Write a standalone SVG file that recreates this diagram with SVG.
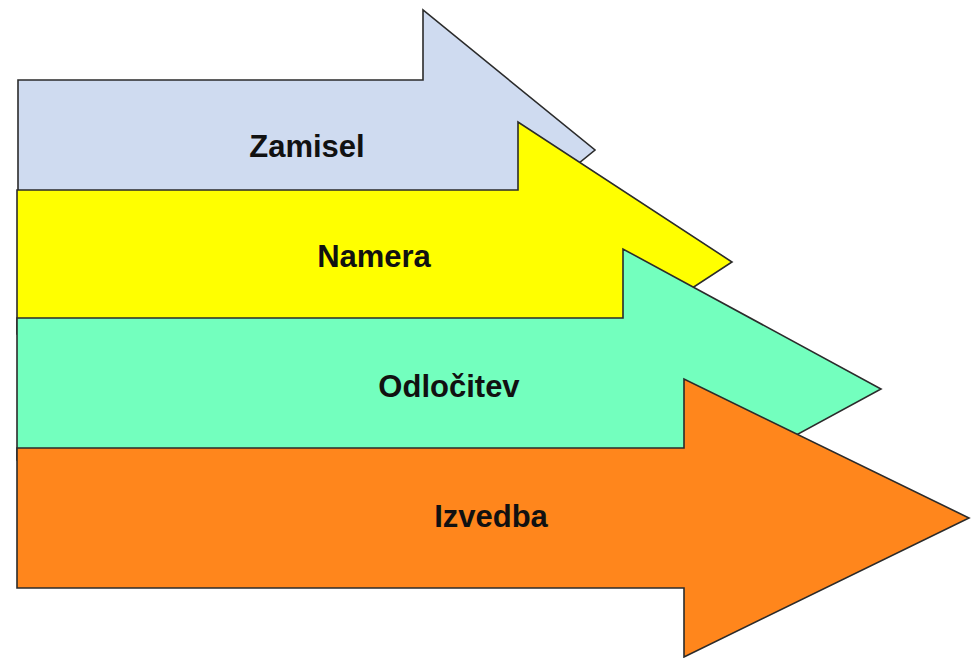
<svg xmlns="http://www.w3.org/2000/svg" width="978" height="658" viewBox="0 0 978 658">
<style>
.arrow{stroke:#2b2b2b;stroke-width:1.6;stroke-linejoin:miter}
.lbl{font-family:"Liberation Sans",Arial,sans-serif;font-weight:bold;font-size:31px;fill:#111;text-anchor:middle}
</style>
<rect width="978" height="658" fill="#ffffff"/>
<g id="zamisel">
<polygon class="arrow" fill="#cfdbf0" points="18,80 423,80 423,10 595,150 423,290 423,220 18,220"/>
<text class="lbl" x="307" y="157">Zamisel</text>
</g>
<g id="namera">
<polygon class="arrow" fill="#ffff00" points="17,190 518,190 518,122 732,262 518,402 518,334 17,334"/>
<text class="lbl" x="374" y="267">Namera</text>
</g>
<g id="odlocitev">
<polygon class="arrow" fill="#73ffbe" points="17,318 623,318 623,249 881,389 623,529 623,460 17,460"/>
<text class="lbl" x="449" y="397">Odločitev</text>
</g>
<g id="izvedba">
<polygon class="arrow" fill="#ff861c" points="17,448 684,448 684,379 969,518 684,657 684,588 17,588"/>
<text class="lbl" x="491" y="527">Izvedba</text>
</g>
<g id="connectors"></g>
</svg>
